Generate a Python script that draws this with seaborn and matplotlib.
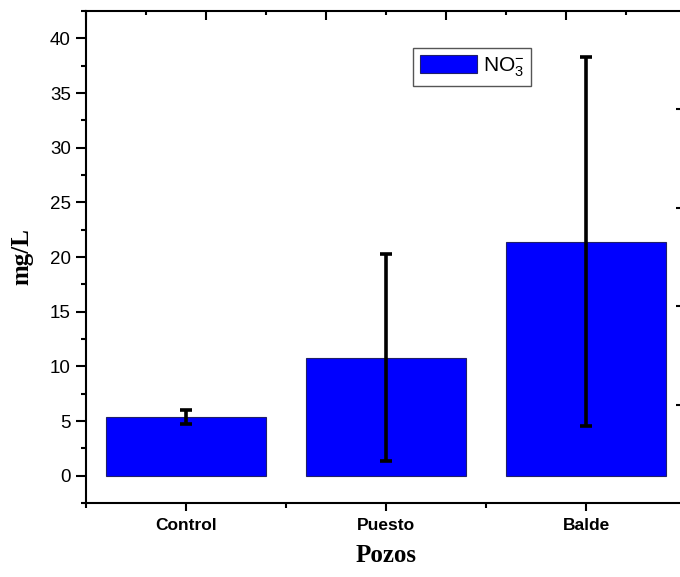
import matplotlib
matplotlib.use("Agg")
import matplotlib.pyplot as plt
import seaborn as sns
import pandas as pd
from matplotlib.patches import Patch
from matplotlib.ticker import MultipleLocator

# data
pozos = ["Control", "Puesto", "Balde"]
no3_mean = [5.4, 10.8, 21.4]
no3_err = [0.65, 9.5, 16.9]

BAR_COLOR = "#0000FF"

sns.set_style("ticks")
plt.rcParams["font.family"] = ["Liberation Sans", "DejaVu Sans"]
plt.rcParams["mathtext.fontset"] = "custom"
plt.rcParams["mathtext.rm"] = "Liberation Sans"
plt.rcParams["mathtext.it"] = "Liberation Sans:italic"
for key in ["text.color", "axes.labelcolor", "xtick.color", "ytick.color", "axes.edgecolor"]:
    plt.rcParams[key] = "black"

df = pd.DataFrame({"Pozo": pozos, "NO3": no3_mean, "err": no3_err})

fig = plt.figure(figsize=(6.8, 5.77), dpi=100)
# axes run a little past the right edge of the figure, as in the original export
ax = fig.add_axes([86 / 680, 74 / 577, 600 / 680, 492 / 577])

sns.barplot(data=df, x="Pozo", y="NO3", color=BAR_COLOR, saturation=1,
            width=0.8, edgecolor="#20206a", linewidth=0.8, errorbar=None, ax=ax)
ax.errorbar(range(len(pozos)), df["NO3"], yerr=df["err"], fmt="none",
            ecolor="black", elinewidth=2.6, capsize=4.5, capthick=2.6, zorder=5)

ax.set_xlim(-0.5, 2.5)
ax.set_ylim(-2.5, 42.5)
ax.yaxis.set_minor_locator(MultipleLocator(2.5))
ax.set_yticks([0, 5, 10, 15, 20, 25, 30, 35, 40])
ax.set_xticks([-0.5, 0.5, 1.5], minor=True)

for s in ax.spines.values():
    s.set_linewidth(1.5)
    s.set_color("black")
ax.spines["right"].set_visible(False)

ax.tick_params(axis="y", which="major", direction="out", length=7, width=1.5,
               labelsize=13.5, pad=4)
ax.tick_params(axis="y", which="minor", direction="out", length=3.5, width=1.5)
ax.tick_params(axis="x", which="major", direction="out", length=6, width=1.5,
               labelsize=12.5, pad=5)
ax.tick_params(axis="x", which="minor", direction="out", length=3.5, width=1.5)
for lbl in ax.get_xticklabels():
    lbl.set_fontweight("bold")

ax.set_ylabel("mg/L", fontsize=18, fontweight="bold",
              family=["Liberation Serif", "DejaVu Serif"], labelpad=12)
ax.set_xlabel("Pozos", fontsize=18, fontweight="bold",
              family=["Liberation Serif", "DejaVu Serif"], labelpad=8)

# second layer axes of the original: inward ticks on top and a cut right side
top = ax.twiny()
top.set_xlim(0, 5)
top.xaxis.set_major_locator(MultipleLocator(1))
top.xaxis.set_minor_locator(MultipleLocator(0.5))
top.tick_params(axis="x", which="major", direction="in", length=6.5, width=1.5,
                labeltop=False)
top.tick_params(axis="x", which="minor", direction="in", length=3, width=1.5)
for s in top.spines.values():
    s.set_visible(False)

side = ax.twinx()
side.set_ylim(-2.5, 42.5)
side.set_yticks([6.5, 15.5, 24.5, 33.5])
side.spines["right"].set_position(("axes", 594 / 600))
for s in side.spines.values():
    s.set_visible(False)
side.tick_params(axis="y", direction="in", length=3, width=1.5, labelright=False)

handles = [Patch(facecolor=BAR_COLOR, edgecolor="#20206a", linewidth=0.8,
                 label=r"NO$_3^{-}$")]
leg = ax.legend(handles=handles, loc="upper left",
                bbox_to_anchor=(327 / 600, 1 - 37 / 492),
                borderaxespad=0, fontsize=15, fancybox=False, framealpha=1,
                handlelength=2.7, handleheight=0.9, borderpad=0.35,
                handletextpad=0.3)
leg.get_frame().set_edgecolor("#555555")
leg.get_frame().set_linewidth(1.0)

fig.savefig("out.png", dpi=100)
